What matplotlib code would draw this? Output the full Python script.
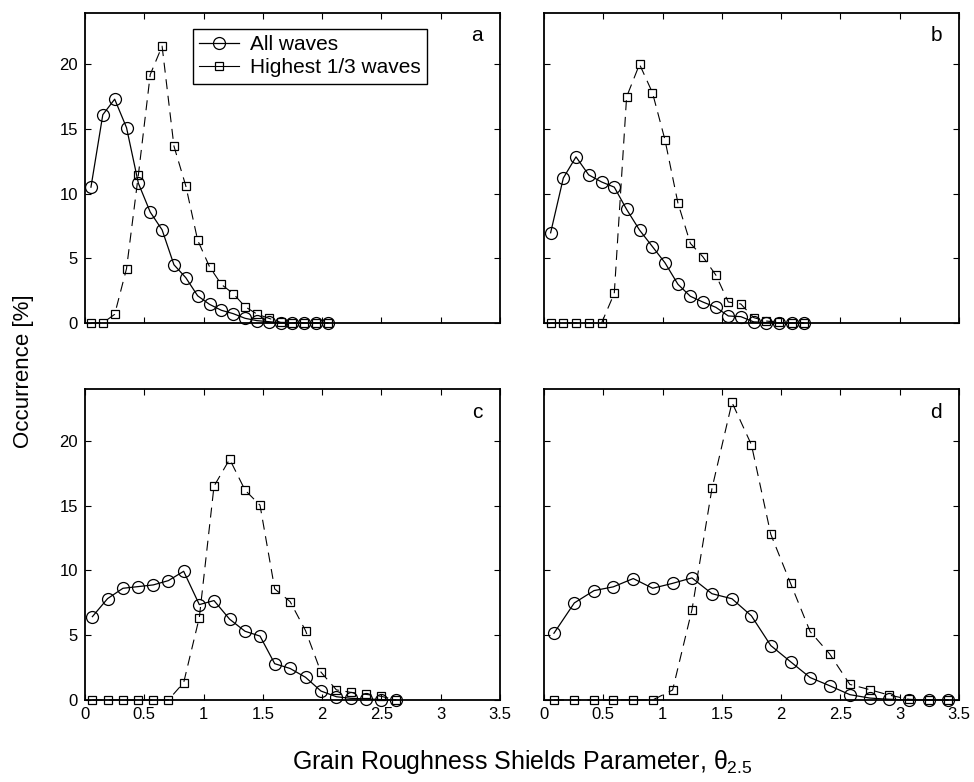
import numpy as np
import matplotlib
matplotlib.use('Agg')
import matplotlib.pyplot as plt

plt.rcParams['font.family'] = ['Liberation Sans', 'DejaVu Sans']
plt.rcParams['mathtext.fontset'] = 'custom'
plt.rcParams['mathtext.rm'] = 'Liberation Sans'
plt.rcParams['mathtext.it'] = 'Liberation Sans'

# bin centres and occurrence [%] for each panel
x_a = [0.05, 0.15, 0.25, 0.35, 0.45, 0.55, 0.65, 0.75, 0.85, 0.95, 1.05,
       1.15, 1.25, 1.35, 1.45, 1.55, 1.65, 1.75, 1.85, 1.95, 2.05]
all_a = [10.5, 16.1, 17.3, 15.1, 10.8, 8.57, 7.2, 4.5, 3.5, 2.1, 1.44,
         0.98, 0.72, 0.36, 0.18, 0.1, 0, 0, 0, 0, 0]
high_a = [0, 0, 0.67, 4.2, 11.45, 19.2, 21.4, 13.67, 10.6, 6.4, 4.35,
          2.98, 2.27, 1.26, 0.69, 0.36, 0.05, 0.03, 0, 0, 0]

x_b = [0.056, 0.163, 0.27, 0.377, 0.486, 0.593, 0.697, 0.806, 0.915, 1.02, 1.13,
       1.235, 1.34, 1.45, 1.555, 1.66, 1.77, 1.875, 1.98, 2.09, 2.19]
all_b = [6.97, 11.2, 12.84, 11.45, 10.9, 10.5, 8.78, 7.18, 5.9, 4.66, 2.99,
         2.06, 1.62, 1.21, 0.54, 0.49, 0.08, 0.03, 0, 0, 0]
high_b = [0, 0, 0, 0, 0, 2.29, 17.48, 20.0, 17.8, 14.18, 9.27,
          6.15, 5.12, 3.7, 1.62, 1.47, 0.41, 0.15, 0.05, 0, 0]

x_c = [0.062, 0.19, 0.32, 0.45, 0.576, 0.703, 0.832, 0.964, 1.088, 1.22, 1.35,
       1.476, 1.60, 1.73, 1.86, 1.99, 2.12, 2.24, 2.37, 2.5, 2.62]
all_c = [6.43, 7.82, 8.62, 8.75, 8.88, 9.21, 9.93, 7.36, 7.67, 6.23, 5.3,
         4.93, 2.8, 2.43, 1.75, 0.69, 0.25, 0.13, 0.08, 0.03, 0]
high_c = [0, 0, 0, 0, 0, 0, 1.34, 6.36, 16.5, 18.58, 16.19,
          15.03, 8.57, 7.59, 5.35, 2.15, 0.78, 0.59, 0.43, 0.28, 0]

x_d = [0.084, 0.256, 0.422, 0.585, 0.753, 0.917, 1.085, 1.248, 1.417, 1.586, 1.75,
       1.913, 2.08, 2.245, 2.41, 2.58, 2.746, 2.91, 3.08, 3.25, 3.41]
all_d = [5.15, 7.49, 8.44, 8.73, 9.37, 8.62, 9.0, 9.42, 8.2, 7.81, 6.49,
         4.2, 2.95, 1.73, 1.1, 0.41, 0.15, 0.05, 0, 0, 0]
high_d = [0, 0, 0, 0, 0, 0, 0.77, 6.95, 16.32, 22.96, 19.69,
          12.79, 9.0, 5.28, 3.55, 1.2, 0.8, 0.38, 0.05, 0, 0]

panels = [('a', x_a, all_a, high_a), ('b', x_b, all_b, high_b),
          ('c', x_c, all_c, high_c), ('d', x_d, all_d, high_d)]

xticks = [0, 0.5, 1, 1.5, 2, 2.5, 3, 3.5]
xticklabels = ['0', '0.5', '1', '1.5', '2', '2.5', '3', '3.5']
yticks = [0, 5, 10, 15, 20]

fig = plt.figure(figsize=(9.74, 7.82), dpi=100)

# axes boxes in figure fractions (left, bottom, width, height)
boxes = [(0.0873, 0.587, 0.426, 0.397), (0.5585, 0.587, 0.426, 0.397),
         (0.0873, 0.1049, 0.426, 0.3977), (0.5585, 0.1049, 0.426, 0.3977)]

for i, (letter, x, y_all, y_high) in enumerate(panels):
    ax = fig.add_axes(boxes[i])
    ax.plot(x, y_all, '-', color='k', lw=0.9, marker='o', ms=8.6,
            mfc='none', mec='k', mew=0.9, clip_on=False, label='All waves')
    ax.plot(x, y_high, color='k', lw=0.8, dashes=(9, 6), marker='s', ms=6.3,
            mfc='none', mec='k', mew=0.9, clip_on=False, label='Highest 1/3 waves')
    ax.set_xlim(0, 3.5)
    ax.set_ylim(0, 24)
    ax.set_xticks(xticks)
    ax.set_yticks(yticks)
    ax.tick_params(direction='in', top=True, right=True, length=4, width=0.8,
                   labelsize=12, pad=5)
    if i < 2:
        ax.set_xticklabels([])
    else:
        ax.set_xticklabels(xticklabels)
    if i % 2 == 1:
        ax.set_yticklabels([])
    for s in ax.spines.values():
        s.set_linewidth(1.3)
    ax.text(0.945, 0.925, letter, transform=ax.transAxes, fontsize=15,
            ha='center', va='center')
    if i == 0:
        leg = ax.legend(loc='upper left', bbox_to_anchor=(0.26, 0.948),
                        borderaxespad=0, fontsize=15, handlelength=1.9,
                        handletextpad=0.55, borderpad=0.3, labelspacing=0.22,
                        fancybox=False, edgecolor='k', framealpha=1)
        leg.get_frame().set_linewidth(1.0)
        for h in leg.get_lines():
            h.set_linestyle('-')

fig.text(0.024, 0.5256, 'Occurrence [%]', rotation=90, fontsize=16,
         ha='center', va='center')
fig.text(0.536, 0.0166, r'Grain Roughness Shields Parameter, $\theta_{2.5}$',
         fontsize=18, ha='center', va='baseline')

plt.savefig('out.png', dpi=100)
